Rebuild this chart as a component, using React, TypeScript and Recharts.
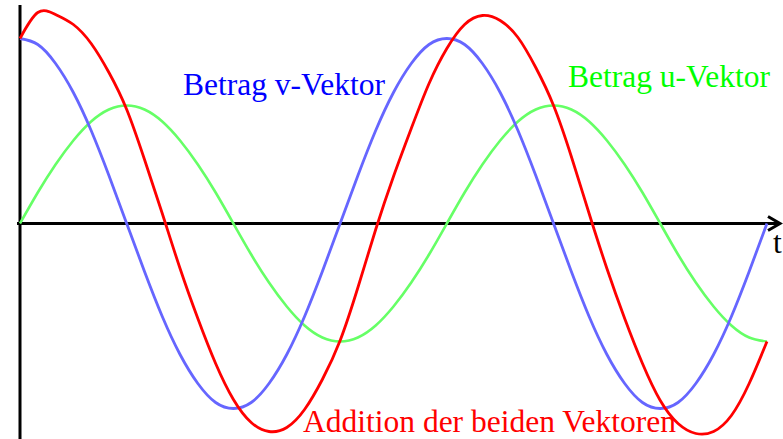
import { LineChart, Line, XAxis, YAxis, ReferenceLine } from 'recharts';

// phase angle in degrees, 15° steps
const angles = [
  0, 15, 30, 45, 60, 75, 90, 105, 120, 135, 150, 165, 180, 195, 210, 225, 240,
  255, 270, 285, 300, 315, 330, 345, 360, 375, 390, 405, 420, 435, 450, 465,
  480, 495, 510, 525, 540, 555, 570, 585, 600, 615, 630,
];

const vVektor = [
  185, 179, 160, 131, 93, 48, 0, -48, -93, -131, -160, -179, -185, -179, -160,
  -131, -93, -48, 0, 48, 93, 131, 160, 179, 185, 179, 160, 131, 93, 48, 0, -48,
  -93, -131, -160, -179, -185, -179, -160, -131, -93, -48, 0,
];

const uVektor = [
  0, 31, 59, 83, 102, 114, 118, 114, 102, 83, 59, 31, 0, -31, -59, -83, -102,
  -114, -118, -114, -102, -83, -59, -31, 0, 31, 59, 83, 102, 114, 118, 114, 102,
  83, 59, 31, 0, -31, -59, -83, -102, -114, -118,
];

const summe = [
  185, 211, 209, 199, 180, 151, 114, 64, 10, -45, -95, -140, -176, -199, -208,
  -204, -186, -156, -117, -64, -6, 47, 95, 140, 175, 199, 208, 203, 186, 156,
  118, 67, 10, -45, -95, -140, -177, -200, -210, -208, -192, -160, -118,
];

const data = angles.map((t, i) => ({
  t,
  v: vVektor[i],
  u: uVektor[i],
  sum: summe[i],
}));

const serif = 'Liberation Serif, Times New Roman, DejaVu Serif, serif';

const YArrow = (p: any) => {
  const x = p.x1;
  const top = p.y1 + 1;
  return (
    <g stroke='#000' strokeWidth={3} fill='none'>
      <line x1={x} y1={top} x2={x} y2={p.y2} />
      <polyline points={`${x - 7},${top + 12} ${x},${top} ${x + 7},${top + 12}`} />
    </g>
  );
};

const XArrow = (p: any) => {
  const y = p.y1;
  const right = p.x2;
  return (
    <g stroke='#000' strokeWidth={3} fill='none'>
      <line x1={p.x1 - 3} y1={y} x2={right} y2={y} />
      <polyline points={`${right - 12},${y - 7} ${right},${y} ${right - 12},${y + 7}`} />
    </g>
  );
};

export default function App() {
  return (
    <div style={{ position: 'absolute', left: 0, top: 0, width: 783, height: 439, background: '#fff' }}>
      <LineChart
        width={783}
        height={439}
        data={data}
        margin={{ top: 5, right: 3, bottom: 0, left: 20 }}
      >
        <XAxis dataKey='t' type='number' domain={[0, 641]} hide />
        <YAxis type='number' domain={[-215.5, 218.5]} allowDataOverflow hide />
        <ReferenceLine x={0} shape={YArrow} />
        <ReferenceLine y={0} shape={XArrow} />
        <Line
          type='natural'
          dataKey='u'
          stroke='#66ff66'
          strokeWidth={2.6}
          dot={false}
          isAnimationActive={false}
        />
        <Line
          type='natural'
          dataKey='v'
          stroke='#6666ff'
          strokeWidth={2.8}
          dot={false}
          isAnimationActive={false}
        />
        <Line
          type='natural'
          dataKey='sum'
          stroke='#ff0000'
          strokeWidth={2.8}
          dot={false}
          isAnimationActive={false}
        />
        <g fontFamily={serif} fontSize={31.5}>
          <text x={183} y={95} fill='#0000ff' fontFamily={serif}>
            Betrag v-Vektor
          </text>
          <text x={568} y={87} fill='#00ff00' fontFamily={serif}>
            Betrag u-Vektor
          </text>
          <text x={303} y={432} fill='#ff0000' fontFamily={serif}>
            Addition der beiden Vektoren
          </text>
          <text x={773} y={253} fill='#000' fontFamily={serif}>
            t
          </text>
        </g>
      </LineChart>
    </div>
  );
}
